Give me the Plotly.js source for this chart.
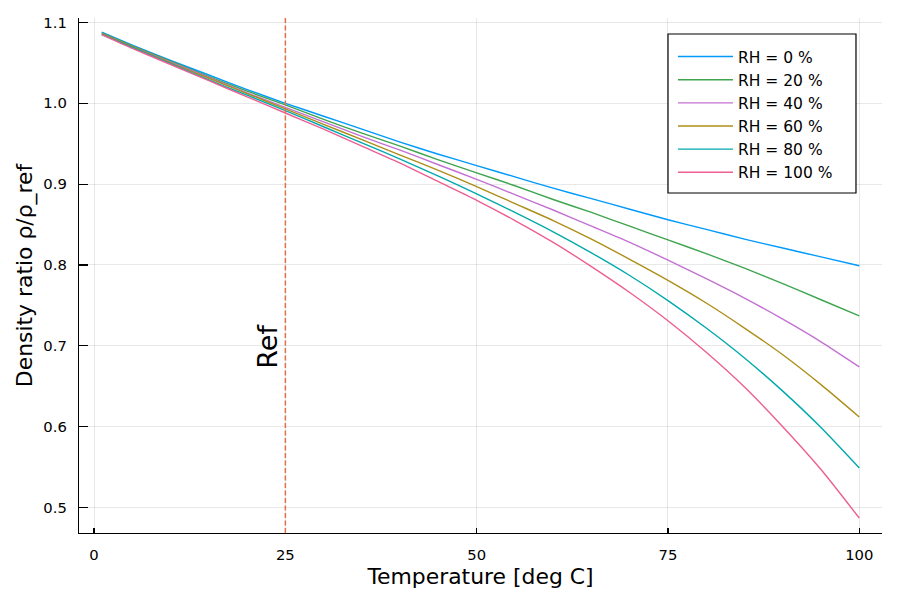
<!DOCTYPE html>
<html>
<head>
<meta charset="utf-8">
<script src="https://cdn.plot.ly/plotly-3.0.1.min.js"></script>
<style>
  html, body { margin: 0; padding: 0; background: #fff; }
  #chart { width: 900px; height: 600px; }
</style>
</head>
<body>
<div id="chart"></div>
<script>
'use strict';

// Values
let temps = [1, 5, 10, 15, 20, 25, 30, 35, 40, 45, 50, 55, 60, 65, 70, 75, 80, 85, 90, 95, 100];

let rh0   = [1.088, 1.072, 1.053, 1.035, 1.017, 1.000, 0.984, 0.968, 0.952, 0.937, 0.923, 0.909, 0.895, 0.882, 0.869, 0.856, 0.844, 0.832, 0.821, 0.810, 0.799];
let rh20  = [1.087, 1.071, 1.052, 1.033, 1.015, 0.998, 0.980, 0.963, 0.947, 0.930, 0.914, 0.898, 0.881, 0.865, 0.848, 0.831, 0.814, 0.796, 0.777, 0.757, 0.737];
let rh40  = [1.086, 1.070, 1.051, 1.032, 1.013, 0.995, 0.977, 0.959, 0.942, 0.924, 0.906, 0.887, 0.868, 0.848, 0.828, 0.806, 0.783, 0.759, 0.733, 0.705, 0.674];
let rh60  = [1.086, 1.070, 1.050, 1.031, 1.012, 0.993, 0.974, 0.955, 0.936, 0.917, 0.897, 0.876, 0.855, 0.832, 0.807, 0.781, 0.753, 0.722, 0.689, 0.652, 0.612];
let rh80  = [1.085, 1.069, 1.049, 1.029, 1.010, 0.991, 0.971, 0.951, 0.931, 0.910, 0.888, 0.865, 0.841, 0.815, 0.787, 0.756, 0.722, 0.685, 0.644, 0.599, 0.549];
let rh100 = [1.085, 1.068, 1.048, 1.028, 1.008, 0.988, 0.968, 0.947, 0.926, 0.903, 0.880, 0.855, 0.828, 0.798, 0.766, 0.731, 0.692, 0.649, 0.600, 0.547, 0.487];

let seriesNames = ['RH = 0 %', 'RH = 20 %', 'RH = 40 %', 'RH = 60 %', 'RH = 80 %', 'RH = 100 %'];
let seriesColors = ['#009AFA', '#3EA44E', '#C371D2', '#AC8E18', '#00A9AD', '#ED5E93'];

let refTemp = 25;
let refLabel = 'Ref';
let refLabelY = 0.7;

let xTicks = [0, 25, 50, 75, 100];
let yTicks = [0.5, 0.6, 0.7, 0.8, 0.9, 1.0, 1.1];

const FONT = 'DejaVu Sans, sans-serif';

function makeTrace(y, i) {
    return {
        x: temps,
        y: y,
        name: seriesNames[i],
        type: 'scatter',
        mode: 'lines',
        line: { color: seriesColors[i], width: 1.4, shape: 'spline', smoothing: 0.6 }
    };
}

let data = [rh0, rh20, rh40, rh60, rh80, rh100].map(makeTrace);

let layout = {
    width: 900,
    height: 600,
    margin: { l: 79, r: 18, t: 18, b: 67 },
    paper_bgcolor: '#ffffff',
    plot_bgcolor: '#ffffff',
    font: { family: FONT, color: '#000000' },
    showlegend: true,

    xaxis: {
        range: [-1.97, 102.97],
        tickvals: xTicks,
        ticktext: xTicks.map(String),
        ticks: 'inside',
        ticklen: 5,
        tickwidth: 1.2,
        tickcolor: '#000000',
        ticklabelstandoff: 8,
        tickfont: { family: FONT, size: 14.8, color: '#000000' },
        showline: true,
        linecolor: '#000000',
        linewidth: 1.2,
        mirror: false,
        showgrid: true,
        gridcolor: 'rgba(0,0,0,0.09)',
        gridwidth: 1,
        zeroline: false,
        title: {
            text: 'Temperature [deg C]',
            font: { family: FONT, size: 21.9, color: '#000000' },
            standoff: 6
        }
    },

    yaxis: {
        range: [0.4685, 1.1055],
        tickvals: yTicks,
        ticktext: yTicks.map(v => v.toFixed(1)),
        ticks: 'inside',
        ticklen: 9,
        tickwidth: 1.2,
        tickcolor: '#000000',
        ticklabelstandoff: 8,
        tickfont: { family: FONT, size: 14.8, color: '#000000' },
        showline: true,
        linecolor: '#000000',
        linewidth: 1.2,
        mirror: false,
        showgrid: true,
        gridcolor: 'rgba(0,0,0,0.09)',
        gridwidth: 1,
        zeroline: false,
        title: {
            text: 'Density ratio ρ/ρ_ref',
            font: { family: FONT, size: 21.9, color: '#000000' },
            standoff: 4
        }
    },

    legend: {
        x: 0.7397,
        y: 0.9573,
        xanchor: 'left',
        yanchor: 'top',
        bgcolor: 'rgba(0,0,0,0)',
        borderwidth: 0,
        itemwidth: 55,
        font: { family: FONT, size: 15.5, color: '#000000' }
    },

    shapes: [{
        type: 'line',
        xref: 'x',
        yref: 'paper',
        x0: refTemp,
        x1: refTemp,
        y0: 0,
        y1: 1,
        line: { color: '#E36F47', width: 1.5, dash: '5px,2.5px' }
    }, {
        // legend frame
        type: 'rect',
        xref: 'paper',
        yref: 'paper',
        x0: 0.7335,
        x1: 0.9676,
        y0: 0.6602,
        y1: 0.9689,
        layer: 'above',
        fillcolor: '#ffffff',
        line: { color: '#000000', width: 1.2 }
    }],

    annotations: [{
        x: refTemp,
        y: refLabelY,
        xref: 'x',
        yref: 'y',
        text: refLabel,
        showarrow: false,
        textangle: -90,
        xanchor: 'right',
        yanchor: 'middle',
        font: { family: FONT, size: 27, color: '#000000' }
    }]
};

let config = {
    displayModeBar: false,
    responsive: false,
    staticPlot: true
};

Plotly.newPlot('chart', data, layout, config);
</script>
</body>
</html>
